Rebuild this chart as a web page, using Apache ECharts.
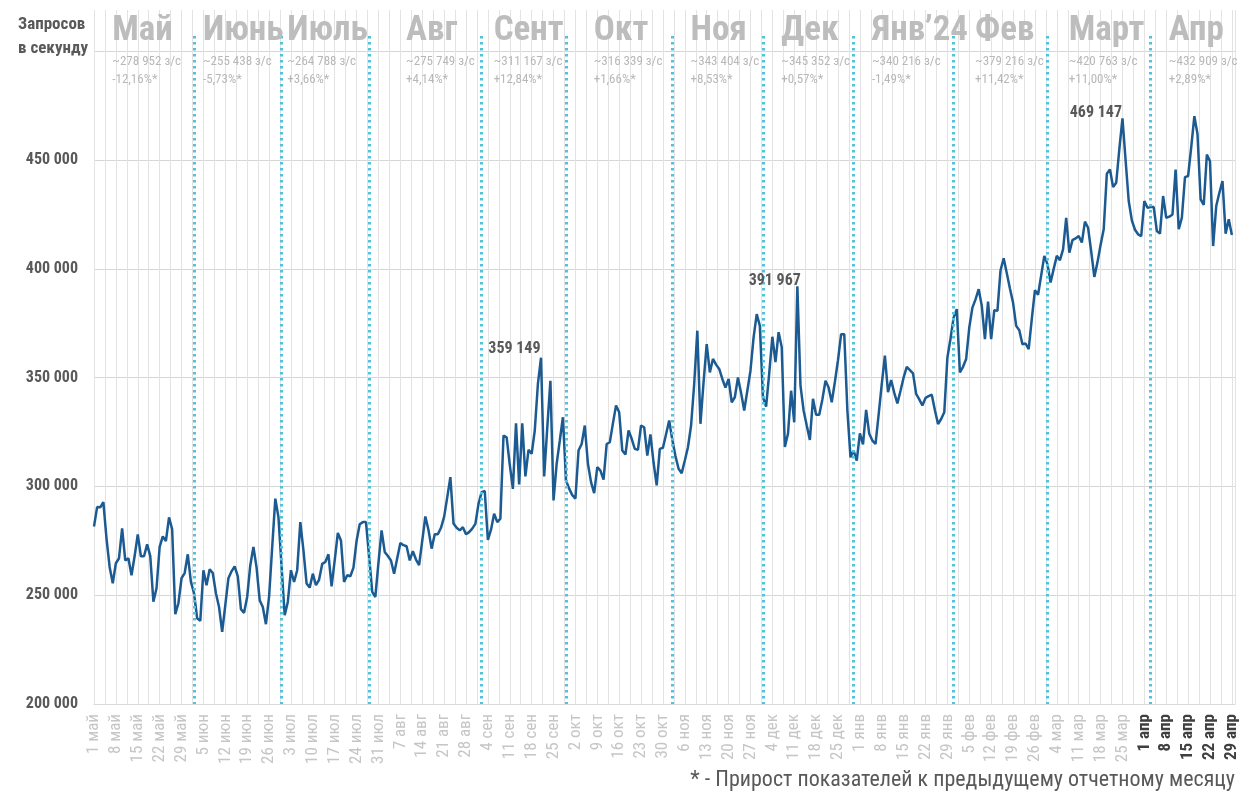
<!DOCTYPE html>
<html>
<head>
<meta charset="utf-8">
<title>Запросов в секунду</title>
<script src="https://cdn.jsdelivr.net/npm/echarts@6/dist/echarts.min.js"></script>
<style>
  html, body { margin: 0; padding: 0; background: #fff; }
  #chart { width: 1246px; height: 799px; }
</style>
</head>
<body>
<div id="chart"></div>
<script>
// шрифт поуже, ближе к DIN Condensed оригинала
const FONT = "'Noto Sans Condensed', 'Roboto Condensed', 'Open Sans Condensed', 'DejaVu Sans Condensed', 'Liberation Sans Narrow', 'Noto Sans', sans-serif";
const FS = 'condensed';

// подписи дней: 1 мая 2023 — 30 апреля 2024
const monthAbbr = ['янв', 'фев', 'мар', 'апр', 'май', 'июн', 'июл', 'авг', 'сен', 'окт', 'ноя', 'дек'];
const days = [];
for (let d = new Date(2023, 4, 1); days.length < 366; d.setDate(d.getDate() + 1)) {
  days.push(d.getDate() + ' ' + monthAbbr[d.getMonth()]);
}

// запросов в секунду по дням
const requests = [
  281600, 290500, 290400, 292800, 276000, 263000, 255500, 264700, 267000, 280700,
  266000, 267000, 259200, 268000, 278000, 267900, 267900, 273400, 268000, 247000,
  253200, 272200, 277000, 274900, 285800, 280300, 241300, 246300, 257800, 260200,
  268800, 256100, 250900, 239400, 238200, 261500, 254600, 261900, 260200, 250900,
  244600, 233200, 245400, 257800, 261000, 263300, 258700, 243600, 241900, 249200,
  263800, 272200, 262800, 247700, 244600, 236700, 249200, 272000, 294400, 285900,
  263300, 240800, 246900, 261500, 256100, 261500, 283600, 270600, 255400, 253500,
  259900, 254600, 257100, 264400, 265300, 268800, 254100, 266000, 278600, 275200,
  256100, 259200, 258700, 262700, 275000, 282600, 283600, 283600, 268000, 251500,
  249200, 265000, 279800, 269900, 268000, 266000, 259900, 267000, 274000, 273000,
  272500, 266000, 270300, 266400, 263800, 275000, 286200, 280000, 271400, 278000,
  278000, 281000, 286000, 295000, 304300, 283000, 281000, 279800, 281300, 278000,
  279000, 280600, 282800, 292000, 297400, 297900, 275400, 280100, 287500, 283600,
  285200, 323400, 322600, 310000, 298900, 329000, 300900, 329000, 304600, 316800,
  315000, 325700, 347100, 359149, 304600, 327000, 348600, 293600, 310400, 321000,
  331800, 302700, 299000, 296000, 294400, 316500, 319500, 328000, 310400, 302000,
  296900, 308900, 307300, 303100, 319500, 320300, 329000, 337200, 334100, 316500,
  314700, 325700, 321900, 317300, 316800, 328000, 327200, 314200, 323900, 311000,
  300500, 317300, 317800, 324000, 330300, 321400, 314000, 308100, 306100, 311900,
  318000, 328000, 347100, 371600, 328800, 348000, 365400, 352400, 358600, 356000,
  354000, 349400, 345500, 349400, 338700, 341000, 350100, 343000, 334900, 344000,
  353200, 368500, 379200, 373800, 341000, 336700, 352000, 368800, 357100, 370900,
  364000, 318100, 324200, 344000, 329500, 391967, 346300, 334900, 328000, 321400,
  340300, 333000, 333000, 340000, 348600, 345500, 338700, 348000, 358000, 370000,
  370000, 335000, 313400, 316500, 311900, 324400, 319300, 335200, 324200, 321100,
  319500, 333000, 347000, 360100, 343300, 348900, 343000, 338200, 344000, 350100,
  355000, 353500, 352000, 342500, 340000, 337200, 340700, 341500, 342200, 335000,
  328700, 331000, 334100, 359300, 368000, 377700, 381500, 352400, 355000, 358600,
  373100, 382200, 386000, 390700, 383000, 367700, 385000, 367700, 381000, 380700,
  399400, 404900, 398000, 391000, 384500, 373800, 371800, 365400, 365700, 363100,
  377000, 390200, 388100, 397000, 406000, 402200, 393700, 400000, 406000, 404000,
  409000, 423500, 407500, 413200, 414000, 415100, 412100, 421700, 418900, 408000,
  396300, 403000, 411000, 418200, 443700, 445700, 437600, 439600, 455000, 469147,
  450000, 431200, 422300, 418000, 415900, 415100, 431200, 428100, 428400, 428400,
  417400, 416200, 433500, 423500, 424000, 425000, 445700, 418200, 423500, 442200,
  442700, 456000, 470200, 462000, 432000, 429400, 452600, 449500, 410500, 428900,
  435000, 440400, 416200, 422800, 415600
];

// шапки месяцев
const monthHeads = ['Май', 'Июнь', 'Июль', 'Авг', 'Сент', 'Окт', 'Ноя', 'Дек', 'Янв’24', 'Фев', 'Март', 'Апр'];
const monthAvg = ['~278 952 з/с', '~255 438 з/с', '~264 788 з/с', '~275 749 з/с', '~311 167 з/с', '~316 339 з/с',
  '~343 404 з/с', '~345 352 з/с', '~340 216 з/с', '~379 216 з/с', '~420 763 з/с', '~432 909 з/с'];
const monthGrowth = ['-12,16%*', '-5,73%*', '+3,66%*', '+4,14%*', '+12,84%*', '+1,66%*',
  '+8,53%*', '+0,57%*', '-1,49%*', '+11,42%*', '+11,00%*', '+2,89%*'];
const monthHeadAt = ['7 май', '5 июн', '2 июл', '9 авг', '6 сен', '8 окт', '8 ноя', '7 дек', '5 янв', '7 фев', '8 мар', '9 апр'];

// пунктирные границы месяцев
const monthBreaks = ['2 июн', '30 июн', '28 июл', '2 сен', '29 сен', '2 ноя', '1 дек', '30 дек', '31 янв', '1 мар', '3 апр'];

// подписанные пики
const peakDays = ['21 сен', '12 дек', '25 мар'];
const peakOffsets = [[0, 0], [4, 3], [0, 3]];

const yTop = 519000;

const fmt = v => String(v).replace(/\B(?=(\d{3})+(?!\d))/g, ' ');

const headerPoints = monthHeads.map((m, k) => ({
  coord: [monthHeadAt[k], yTop],
  label: {
    show: true,
    position: [0, 0],
    align: 'left',
    verticalAlign: 'top',
    formatter: '{m|' + m + '}\n{s|' + monthAvg[k] + '}\n{s|' + monthGrowth[k] + '}',
    rich: {
      m: { fontFamily: FONT, fontStyle: FS, fontSize: 35, fontWeight: 'bold', color: '#bdbdbd', lineHeight: 43 },
      s: { fontFamily: FONT, fontStyle: FS, fontSize: 13, color: '#b8b8b8', lineHeight: 18 }
    }
  }
}));

const peakPoints = peakDays.map((d, k) => {
  const idx = days.indexOf(d);
  return {
    coord: [d, requests[idx]],
    label: {
      show: true,
      position: [0, 0],
      align: 'right',
      verticalAlign: 'bottom',
      offset: peakOffsets[k],
      formatter: fmt(requests[idx]),
      fontFamily: FONT, fontStyle: FS, fontSize: 16, fontWeight: 'bold', color: '#595959'
    }
  };
});

const myChart = echarts.init(document.getElementById('chart'));
const option = {
  animation: false,
  backgroundColor: '#ffffff',
  textStyle: { fontFamily: FONT, fontStyle: FS },
  title: [
    {
      text: 'Запросов\nв секунду',
      left: 13, top: 8,
      textStyle: { fontFamily: FONT, fontStyle: FS, fontSize: 17, fontWeight: 'bold', color: '#595959', lineHeight: 24 }
    },
    {
      text: '* - Прирост показателей к предыдущему отчетному месяцу',
      right: 6, bottom: 3,
      textStyle: { fontFamily: FONT, fontStyle: FS, fontSize: 22, fontWeight: 'normal', color: '#595959' }
    }
  ],
  grid: { left: 94, right: 11, top: 10, bottom: 95 },
  xAxis: [
    {
      type: 'category',
      data: days,
      boundaryGap: false,
      axisLine: { lineStyle: { color: '#d9d9d9' } },
      axisTick: { show: false },
      splitLine: { show: false },
      axisLabel: {
        interval: 6,
        rotate: 90,
        margin: 10,
        fontFamily: FONT,
        fontStyle: FS,
        fontSize: 17,
        color: '#c6c6c6',
        formatter: v => v.endsWith('апр') ? '{a|' + v + '}' : v,
        rich: { a: { fontFamily: FONT, fontStyle: FS, fontSize: 17, fontWeight: 'bold', color: '#3f3f3f' } }
      }
    },
    {
      // только вертикальная сетка, через полнедели
      type: 'value',
      min: 0,
      max: days.length - 1,
      interval: 3.5,
      position: 'bottom',
      axisLine: { show: false },
      axisTick: { show: false },
      axisLabel: { show: false },
      splitLine: { show: true, lineStyle: { color: '#e3e3e3', width: 1 } }
    }
  ],
  yAxis: {
    type: 'value',
    min: 200000,
    max: yTop,
    interval: 50000,
    axisLine: { show: false },
    axisTick: { show: false },
    axisLabel: {
      margin: 16,
      fontFamily: FONT,
      fontStyle: FS,
      fontSize: 16,
      fontWeight: 'bold',
      color: '#595959',
      formatter: v => (v < 500000 ? fmt(v) : '')
    },
    splitLine: { showMaxLine: false, lineStyle: { color: '#d6d6d6', width: 1 } }
  },
  series: [
    {
      name: 'Запросов в секунду',
      type: 'line',
      data: requests,
      symbol: 'none',
      lineStyle: { color: '#1c5a92', width: 2.5 },
      itemStyle: { color: '#1c5a92' },
      markLine: {
        silent: true,
        symbol: 'none',
        label: { show: false },
        lineStyle: { color: '#55c2dd', width: 3, type: [2.5, 3.5] },
        data: monthBreaks.map(d => [{ coord: [d, 507000] }, { coord: [d, 200000] }])
      },
      markPoint: {
        silent: true,
        symbol: 'rect',
        symbolSize: 1,
        itemStyle: { color: 'rgba(0,0,0,0)' },
        data: headerPoints.concat(peakPoints)
      }
    }
  ]
};
myChart.setOption(option);
window.onresize = function () {
  myChart.resize();
};
</script>
</body>
</html>
